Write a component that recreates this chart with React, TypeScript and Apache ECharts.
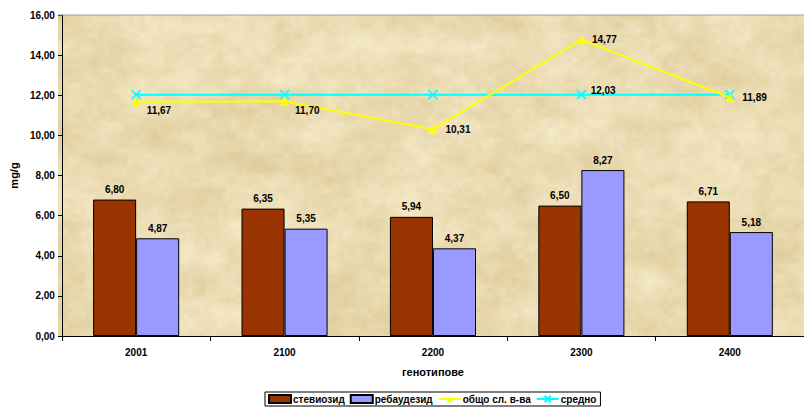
import React, { useEffect, useRef } from "react";
import * as echarts from "echarts";

// Genotypes on the category axis
const categories: string[] = ["2001", "2100", "2200", "2300", "2400"];
// Glycoside content, mg/g
const stevioside: number[] = [6.8, 6.35, 5.94, 6.5, 6.71];
const rebaudioside: number[] = [4.87, 5.35, 4.37, 8.27, 5.18];
const totalSweet: number[] = [11.67, 11.7, 10.31, 14.77, 11.89];
const average: number[] = [12.03, 12.03, 12.03, 12.03, 12.03];

const seriesNames = ["стевиозид", "ребаудезид", "общо сл. в-ва", "средно"];
const yMin = 0;
const yMax = 16;
const yStep = 2;

const GRID = { left: 58, right: 0, top: 15, bottom: 72 };
const W = 804;
const H = 408;

const fmt = (v: number) => v.toFixed(2).replace(".", ",");

// Parchment-like background, built from deterministic value noise
function makeParchment(w: number, h: number): string {
  const c = document.createElement("canvas");
  c.width = w;
  c.height = h;
  const ctx = c.getContext("2d");
  if (!ctx) return "";
  const img = ctx.createImageData(w, h);
  const hash = (i: number, j: number) => {
    const s = Math.sin(i * 127.1 + j * 311.7) * 43758.5453;
    return s - Math.floor(s);
  };
  const smooth = (t: number) => t * t * (3 - 2 * t);
  const noise = (x: number, y: number) => {
    const i = Math.floor(x);
    const j = Math.floor(y);
    const fx = smooth(x - i);
    const fy = smooth(y - j);
    const a = hash(i, j);
    const b = hash(i + 1, j);
    const cc = hash(i, j + 1);
    const d = hash(i + 1, j + 1);
    return a + (b - a) * fx + (cc - a) * fy + (a - b - cc + d) * fx * fy;
  };
  for (let y = 0; y < h; y++) {
    for (let x = 0; x < w; x++) {
      let n =
        0.4 * noise(x / 45, y / 30) +
        0.3 * noise(x / 16, y / 11) +
        0.2 * noise(x / 6, y / 5) +
        0.1 * noise(x / 2, y / 2);
      n = (n - 0.5) * 1.8;
      const k = (y * w + x) * 4;
      img.data[k] = Math.max(0, Math.min(255, 234 + n * 16));
      img.data[k + 1] = Math.max(0, Math.min(255, 219 + n * 22));
      img.data[k + 2] = Math.max(0, Math.min(255, 178 + n * 34));
      img.data[k + 3] = 255;
    }
  }
  ctx.putImageData(img, 0, 0);
  return c.toDataURL("image/png");
}

const boldText = {
  fontFamily: "Liberation Sans, Arial, sans-serif",
  fontWeight: "bold" as const,
  fontSize: 10,
  color: "#000",
};

export default function App() {
  const ref = useRef<HTMLDivElement>(null);

  useEffect(() => {
    if (!ref.current) return;
    const chart = echarts.init(ref.current, undefined, { renderer: "svg" });
    const plotW = W - GRID.left - GRID.right;
    const plotH = H - GRID.top - GRID.bottom;
    const bg = makeParchment(plotW, plotH);

    const totalLabels: Array<{ position: string; offset: number[] }> = [
      { position: "right", offset: [0, 9] },
      { position: "right", offset: [0, 9] },
      { position: "right", offset: [2, 0] },
      { position: "right", offset: [0, 0] },
      { position: "right", offset: [2, 0] },
    ];

    chart.setOption({
      animation: false,
      backgroundColor: "#fff",
      textStyle: { fontFamily: "Liberation Sans, Arial, sans-serif" },
      grid: { ...GRID, containLabel: false },
      graphic: [
        {
          type: "image",
          left: GRID.left,
          top: GRID.top,
          z: -10,
          silent: true,
          style: { image: bg, width: plotW, height: plotH },
        },
        {
          type: "line",
          z: 1,
          silent: true,
          shape: { x1: GRID.left, y1: GRID.top, x2: W, y2: GRID.top },
          style: { stroke: "#a0a0a0", lineWidth: 1 },
        },
      ],
      legend: {
        data: [
          { name: seriesNames[0], icon: "rect" },
          { name: seriesNames[1], icon: "rect" },
          { name: seriesNames[2] },
          { name: seriesNames[3] },
        ],
        left: 265,
        top: 392,
        itemWidth: 22,
        itemHeight: 8,
        itemGap: 5,
        padding: [2, 4, 2, 3],
        borderColor: "#000",
        borderWidth: 1,
        borderRadius: 0,
        textStyle: { ...boldText, padding: [0, 0, 0, -3] },
      },
      xAxis: {
        type: "category",
        data: categories,
        name: "генотипове",
        nameLocation: "middle",
        nameGap: 30,
        nameTextStyle: { ...boldText, fontSize: 11 },
        axisLine: { lineStyle: { color: "#000", width: 1 } },
        axisTick: { show: true, length: 5, lineStyle: { color: "#000" } },
        axisLabel: { ...boldText, margin: 11 },
      },
      yAxis: {
        type: "value",
        min: yMin,
        max: yMax,
        interval: yStep,
        name: "mg/g",
        nameLocation: "middle",
        nameGap: 38,
        nameTextStyle: { ...boldText, fontSize: 11 },
        axisLine: { show: true, lineStyle: { color: "#000", width: 1 } },
        axisTick: { show: true, length: 4, lineStyle: { color: "#000" } },
        axisLabel: { ...boldText, margin: 7, formatter: (v: number) => fmt(v) },
        splitLine: { show: false },
      },
      series: [
        {
          name: seriesNames[0],
          type: "bar",
          data: stevioside,
          barWidth: "29%",
          barGap: "0%",
          itemStyle: { color: "#993300", borderColor: "#000", borderWidth: 1 },
          label: {
            show: true,
            position: "top",
            distance: 5,
            ...boldText,
            formatter: (p: any) => fmt(p.value),
          },
        },
        {
          name: seriesNames[1],
          type: "bar",
          data: rebaudioside,
          barWidth: "29%",
          barGap: "0%",
          itemStyle: { color: "#9999FF", borderColor: "#000", borderWidth: 1 },
          label: {
            show: true,
            position: "top",
            distance: 5,
            ...boldText,
            formatter: (p: any) => fmt(p.value),
          },
        },
        {
          name: seriesNames[2],
          type: "line",
          data: totalSweet.map((v, i) => ({
            value: v,
            label: { show: true, ...totalLabels[i] },
          })),
          symbol: "triangle",
          symbolSize: 9,
          z: 4,
          lineStyle: { color: "#FFFF00", width: 2 },
          itemStyle: { color: "#FFFF00" },
          label: {
            show: true,
            distance: 6,
            ...boldText,
            formatter: (p: any) => fmt(p.value),
          },
        },
        {
          name: seriesNames[3],
          type: "line",
          data: average.map((v, i) => ({
            value: v,
            label:
              i === 3
                ? { show: true, position: "right", offset: [-2, -4] }
                : { show: false },
          })),
          symbol: "path://M0,0L10,10M10,0L0,10",
          symbolSize: 9,
          z: 3,
          lineStyle: { color: "#00FFFF", width: 2 },
          itemStyle: { color: "#00FFFF", borderColor: "#00FFFF", borderWidth: 1.5 },
          label: {
            distance: 6,
            ...boldText,
            formatter: (p: any) => fmt(p.value),
          },
        },
      ],
    });

    return () => chart.dispose();
  }, []);

  return <div ref={ref} style={{ width: W, height: H, position: "absolute", left: 0, top: 0 }} />;
}
